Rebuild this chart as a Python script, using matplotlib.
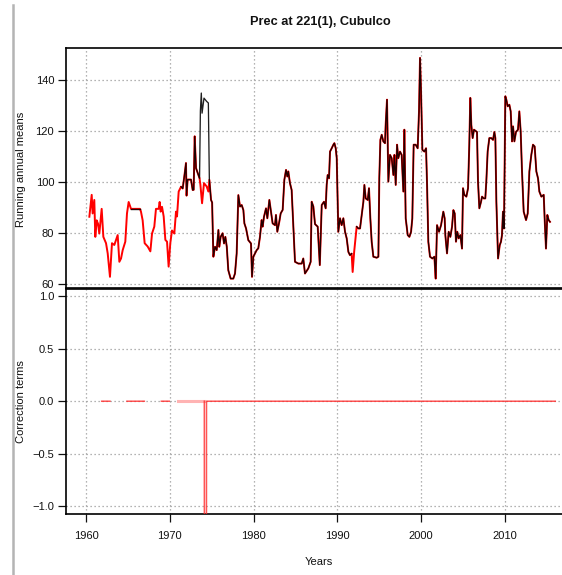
import numpy as np
import matplotlib
matplotlib.use("Agg")
import matplotlib.pyplot as plt
from matplotlib.lines import Line2D

plt.rcParams['font.family'] = ['Liberation Sans', 'DejaVu Sans']

# ---------------- data ----------------
# raw series (red), 1960-1973.4 (shared with adjusted from ~1971.3)
years_early = [1960.40, 1960.68, 1960.79, 1960.99, 1961.11, 1961.27, 1961.43, 1961.59,
               1961.87, 1962.07, 1962.39, 1962.59, 1962.86, 1963.10, 1963.38, 1963.78,
               1963.98, 1964.18, 1964.38, 1964.69, 1964.89, 1965.09, 1965.37, 1966.44,
               1966.56, 1966.76, 1967.00, 1967.36, 1967.68, 1967.88, 1968.15, 1968.35,
               1968.67, 1968.79, 1968.91, 1969.07, 1969.27, 1969.47, 1969.67, 1969.86,
               1970.06, 1970.26, 1970.54, 1970.74, 1970.86, 1971.06, 1971.34, 1971.54,
               1971.73, 1971.93, 1972.00, 1972.13, 1972.53, 1972.73, 1972.85, 1972.97,
               1973.13, 1973.40]
vals_early = [86.4, 95.0, 87.7, 93.0, 78.5, 85.0, 83.7, 79.8,
              89.5, 78.5, 76.0, 72.0, 62.8, 76.0, 75.3, 79.2,
              68.7, 70.0, 73.3, 76.6, 87.7, 92.2, 89.5, 89.5,
              88.4, 85.0, 76.0, 74.7, 72.8, 79.8, 82.5, 89.5,
              89.5, 92.2, 88.4, 90.3, 86.5, 77.3, 76.6, 66.8,
              76.0, 81.0, 79.8, 88.4, 86.5, 96.3, 98.2, 97.5,
              102.2, 107.5, 94.7, 101.0, 101.0, 96.9, 97.0, 118.0,
              105.5, 102.9]
adj_start_year = 1971.34          # adjusted (black) series begins here
gap_fill_years = [1965.37, 1966.44]  # black filled segment in 1965-66
gap_fill_vals = [89.5, 89.5]

# break period: raw vs adjusted
years_break = [1973.55, 1973.65, 1973.76, 1973.85, 1974.08, 1974.40, 1974.60]
raw_break = [101.5, 99.0, 95.0, 91.7, 99.6, 98.3, 96.3]
adj_break = [101.5, 128.0, 135.0, 127.1, 133.0, 131.7, 131.1]

# common part (raw == adjusted) from late 1974
years_late = [1974.72, 1974.92, 1975.05, 1975.20, 1975.40, 1975.60, 1975.80, 1975.90,
              1976.07, 1976.30, 1976.47, 1976.63, 1976.80, 1976.98, 1977.26, 1977.58,
              1977.78, 1977.98, 1978.18, 1978.38, 1978.58, 1978.78, 1978.90, 1979.10,
              1979.37, 1979.69, 1979.81, 1979.97, 1980.17, 1980.37, 1980.56, 1980.76,
              1980.96, 1981.08, 1981.24, 1981.48, 1981.64, 1981.88, 1982.04, 1982.27,
              1982.55, 1982.67, 1982.83, 1983.07, 1983.23, 1983.47, 1983.67, 1983.87,
              1984.02, 1984.14, 1984.34, 1984.54, 1984.74, 1984.94, 1985.34, 1985.74,
              1985.93, 1986.13, 1986.53, 1986.81, 1986.93, 1987.13, 1987.33, 1987.65,
              1987.90, 1988.13, 1988.40, 1988.60, 1988.72, 1988.84, 1989.00, 1989.12,
              1989.32, 1989.52, 1989.64, 1989.80, 1989.92, 1990.11, 1990.31, 1990.51,
              1990.71, 1990.91, 1991.11, 1991.31, 1991.50, 1991.70, 1991.82, 1992.00,
              1992.30, 1992.50, 1992.70, 1992.90, 1993.10, 1993.22, 1993.38, 1993.62,
              1993.77, 1993.93, 1994.09, 1994.29, 1994.69, 1994.89, 1995.00, 1995.13,
              1995.29, 1995.48, 1995.68, 1995.76, 1995.92, 1996.08, 1996.28, 1996.48,
              1996.68, 1996.80, 1996.96, 1997.12, 1997.27, 1997.47, 1997.67, 1997.87,
              1997.99, 1998.15, 1998.39, 1998.59, 1998.79, 1998.94, 1999.10, 1999.34,
              1999.58, 1999.74, 1999.86, 1999.98, 2000.14, 2000.38, 2000.58, 2000.70,
              2000.85, 2001.05, 2001.33, 2001.57, 2001.73, 2001.89, 2002.13, 2002.37,
              2002.64, 2002.80, 2002.88, 2003.08, 2003.28, 2003.48, 2003.68, 2003.84,
              2004.00, 2004.15, 2004.31, 2004.47, 2004.67, 2004.87, 2004.99, 2005.15,
              2005.39, 2005.59, 2005.74, 2005.86, 2005.98, 2006.14, 2006.30, 2006.66,
              2006.78, 2006.94, 2007.14, 2007.26, 2007.46, 2007.65, 2007.77, 2007.93,
              2008.13, 2008.37, 2008.57, 2008.73, 2008.85, 2008.97, 2009.17, 2009.37,
              2009.52, 2009.64, 2009.76, 2009.88, 2010.04, 2010.16, 2010.32, 2010.52,
              2010.68, 2010.84, 2010.96, 2011.12, 2011.31, 2011.55, 2011.71, 2011.87,
              2012.03, 2012.23, 2012.51, 2012.71, 2012.91, 2013.14, 2013.34, 2013.54,
              2013.74, 2013.94, 2014.10, 2014.34, 2014.62, 2014.73, 2014.89, 2015.05,
              2015.21, 2015.37]
vals_late = [100.9, 93.0, 92.0, 70.7, 74.6, 73.3, 81.2, 74.6,
             78.5, 79.9, 75.9, 78.5, 74.6, 65.4, 62.1, 62.1,
             64.1, 72.0, 94.9, 90.4, 91.0, 89.0, 83.8, 81.8,
             77.2, 75.9, 62.8, 70.7, 72.0, 73.3, 74.0, 78.5,
             85.1, 82.5, 86.4, 89.7, 85.8, 93.0, 89.1, 83.8,
             83.1, 87.1, 80.5, 84.5, 87.7, 89.1, 100.9, 104.8,
             102.2, 104.2, 99.6, 96.9, 82.5, 68.7, 68.0, 68.0,
             70.0, 64.1, 66.1, 68.7, 92.3, 90.4, 83.5, 82.5,
             67.4, 91.0, 92.3, 89.7, 98.9, 102.8, 101.5, 112.0,
             113.3, 114.7, 115.3, 113.3, 109.4, 80.5, 85.8, 83.1,
             85.8, 80.5, 77.9, 72.6, 71.3, 71.9, 64.7, 72.6,
             82.5, 81.8, 81.8, 87.1, 92.3, 98.9, 93.6, 93.0,
             97.6, 85.8, 76.6, 70.7, 70.3, 70.7, 101.5, 116.6,
             118.6, 116.0, 115.3, 122.5, 132.4, 100.2, 110.7, 109.4,
             102.8, 110.7, 98.9, 114.7, 109.4, 112.0, 110.7, 96.3,
             120.6, 85.8, 79.2, 78.5, 80.5, 85.8, 114.7, 114.7,
             113.3, 127.8, 148.8, 135.7, 112.7, 112.0, 113.3, 98.9,
             76.6, 70.7, 70.0, 70.7, 62.1, 83.1, 80.5, 83.1,
             88.4, 85.8, 79.2, 72.0, 80.5, 78.5, 82.5, 89.0,
             87.7, 76.6, 80.5, 77.9, 79.2, 73.9, 97.6, 95.0,
             94.3, 97.6, 114.7, 133.1, 122.5, 117.3, 120.6, 119.7,
             100.2, 89.7, 92.3, 94.3, 93.6, 93.6, 100.2, 112.0,
             117.3, 117.3, 116.6, 119.7, 117.3, 92.3, 70.0, 75.2,
             76.6, 79.2, 88.4, 81.8, 133.7, 132.4, 129.8, 130.4,
             127.8, 116.0, 121.9, 116.0, 119.7, 120.6, 127.8, 119.9,
             104.2, 88.4, 85.1, 87.7, 104.2, 110.7, 114.7, 114.0,
             104.2, 101.5, 96.3, 94.3, 95.0, 85.8, 73.9, 87.1,
             85.1, 84.4]
adj_missing = (1991.75, 1992.25)   # adjusted series missing here

# correction terms
corr_years = [1961.87, 1962.86, np.nan, 1964.89, 1966.96, np.nan, 1968.99, 1969.94, np.nan,
              1974.12, 1974.13, 1974.37, 1974.38, 2016.0]
corr_vals = [0, 0, np.nan, 0, 0, np.nan, 0, 0, np.nan,
             0, -2.0, -2.0, 0, 0]
corr_weak_years = [1971.02, 1974.12]
corr_weak_vals = [0, 0]

x_ticks = [1960, 1970, 1980, 1990, 2000, 2010]
top_yticks = [60, 80, 100, 120, 140]
bot_yticks = [-1.0, -0.5, 0.0, 0.5, 1.0]

# ---------------- build series ----------------
raw_x = np.array(years_early + years_break + years_late)
raw_y = np.array(vals_early + raw_break + vals_late)

ye = np.array(years_early); ve = np.array(vals_early)
m = ye >= adj_start_year
yl = np.array(years_late, dtype=float); vl = np.array(vals_late, dtype=float)
vl_adj = vl.copy()
vl_adj[(yl > adj_missing[0]) & (yl < adj_missing[1])] = np.nan
adj_x = np.concatenate([ye[m], years_break, yl])
adj_y = np.concatenate([ve[m], adj_break, vl_adj])

# ---------------- figure ----------------
W, H = 562, 575
fig = plt.figure(figsize=(W / 100, H / 100), dpi=100)

left = 66 / W
right = 1.0
ax1 = fig.add_axes([left, 1 - 287.5 / H, right - left, (287.5 - 48) / H])
ax2 = fig.add_axes([left, 1 - 514.3 / H, right - left, (514.3 - 288.8) / H])

xmin = 1960 + (66 - 86) / 8.38
xmax = 1960 + (562 - 86) / 8.38

grid_kw = dict(color='#9a9a9a', linewidth=0.9, linestyle=(0, (1, 2.2)))

for ax in (ax1, ax2):
    ax.set_xlim(xmin, xmax)
    ax.spines['right'].set_visible(False)
    for s in ('left', 'top', 'bottom'):
        ax.spines[s].set_linewidth(1.2)
    for xv in x_ticks:
        ax.axvline(xv, zorder=0, **grid_kw)
    ax.tick_params(direction='out', length=6, width=0.9, labelsize=8, colors='#111111')

# top panel
ax1.set_ylim(58.6, 152.7)
for yv in top_yticks:
    ax1.axhline(yv, zorder=0, **grid_kw)
ax1.plot(raw_x, raw_y, color='#ff0000', linewidth=1.4, zorder=2)
ax1.plot(gap_fill_years, gap_fill_vals, color='black', linewidth=1.0, alpha=0.85, zorder=3)
ax1.plot(adj_x, adj_y, color='black', linewidth=0.95, alpha=0.88, zorder=3)
ax1.set_yticks(top_yticks)
ax1.set_xticks([])
ax1.tick_params(axis='y', pad=2.5)

# bottom panel
ax2.set_ylim(-1.079, 1.073)
for yv in bot_yticks:
    ax2.axhline(yv, zorder=0, **grid_kw)
ax2.plot(corr_weak_years, corr_weak_vals, color='#ffb3b3', linewidth=2.2, zorder=2)
ax2.plot(corr_years, corr_vals, color='#ff2a2a', linewidth=1.1, alpha=0.8, zorder=3)
ax2.set_yticks(bot_yticks)
ax2.set_yticklabels([('%.1f' % v).replace('-', '\u2212') if v != 0 else '0.0'
                     for v in bot_yticks])
ax2.set_xticks(x_ticks)
ax2.set_xticklabels([str(v) for v in x_ticks])
ax2.tick_params(axis='y', pad=2.5)
ax2.tick_params(axis='x', pad=6.0)

# texts
fig.text(320 / W, 1 - 22 / H, 'Prec at 221(1), Cubulco', ha='center', va='center',
         fontsize=9.2, fontweight='bold', color='#111111')
fig.text(20.7 / W, 1 - 169 / H, 'Running annual means', rotation=90, ha='center',
         va='center', fontsize=8, color='#111111')
fig.text(20.7 / W, 1 - 401.5 / H, 'Correction terms', rotation=90, ha='center',
         va='center', fontsize=8, color='#111111')
fig.text(319 / W, 1 - 562 / H, 'Years', ha='center', va='center', fontsize=8,
         color='#111111')

# gray border line at left of the picture
fig.add_artist(Line2D([12.5 / W, 12.5 / W], [0, 1 - 5 / H], transform=fig.transFigure,
                      color='#b4b4b4', linewidth=1.8))

fig.savefig('out.png', dpi=100)
